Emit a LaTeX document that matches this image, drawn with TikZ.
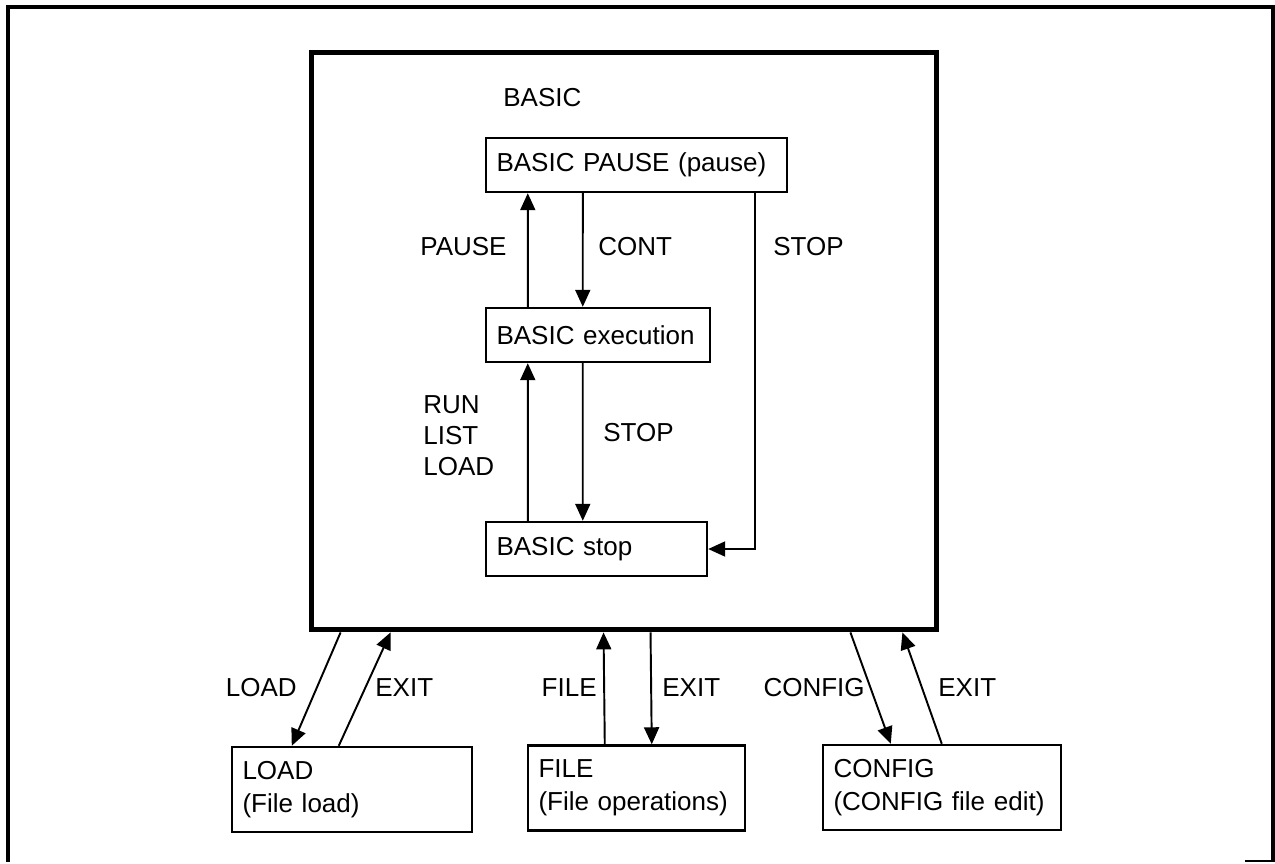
\documentclass[tikz,border=0pt]{standalone}
\usepackage{fontspec}
\setmainfont{Liberation Sans}
\usetikzlibrary{arrows.meta,positioning}

\begin{document}
\begin{tikzpicture}[x=0.02cm,y=-0.02cm,
  box/.style={draw, line width=1.4pt, align=left, inner xsep=0.21cm, minimum height=1.08cm, font=\fontsize{14.8}{19}\selectfont},
  arr/.style={line width=1.1pt, -{Triangle[length=0.34cm,width=0.3cm]}},
  lbl/.style={font=\fontsize{14.8}{17.6}\selectfont, inner sep=0pt, align=left}]
\useasboundingbox (0,0) rectangle (1275,863);
\draw[line width=1.8pt] (8,862) -- (8,7) -- (1273,7) -- (1273,862);
\draw[line width=1pt] (1273,861) -- (1245,861);
\node[draw, line width=2.8pt, minimum width=12.52cm, minimum height=11.56cm] (basic) at (624,341) {};
\node[lbl, anchor=west] (title) at (503,98) {BASIC};
\node[box, text width=5.6cm] (pause) at (636.5,165) {BASIC PAUSE (pause)};
\node[box, text width=4.06cm] (exec) at (598,335) {BASIC execution};
\node[box, text width=4.0cm] (stop) at (596.5,549) {BASIC stop};
\node[box, text width=4.38cm, minimum height=1.7cm] (load) at (352,789.5) {LOAD\\(File load)};
\node[box, text width=3.92cm, minimum height=1.7cm] (file) at (636.5,788) {FILE\\(File operations)};
\node[box, text width=4.34cm, minimum height=1.7cm] (config) at (942,787.5) {CONFIG\\(CONFIG file edit)};
% inside BASIC
\draw[arr] ([xshift=0.86cm]exec.north west) -- ([xshift=0.86cm]pause.south west);
\draw[arr] ([xshift=1.96cm]pause.south west) -- ([xshift=1.96cm]exec.north west);
\draw[arr] ([xshift=0.86cm]stop.north west) -- ([xshift=0.86cm]exec.south west);
\draw[arr] ([xshift=1.96cm]exec.south west) -- ([xshift=1.96cm]stop.north west);
\draw[arr] ([xshift=-0.66cm]pause.south east) |- (stop.east);
\node[lbl, anchor=west] (lpause) at (420,247) {PAUSE};
\node[lbl, anchor=west] (lcont) at (598,247) {CONT};
\node[lbl, anchor=west] (lstopa) at (773,247) {STOP};
\node[lbl, anchor=west] (lrun) at (423,436) {RUN\\LIST\\LOAD};
\node[lbl, anchor=west] (lstopb) at (603,433) {STOP};
% modes below
\draw[arr] ([xshift=0.64cm]basic.south west) -- ([xshift=1.22cm]load.north west);
\draw[arr] ([xshift=2.16cm]load.north west) -- ([xshift=1.64cm]basic.south west);
\draw[arr] ([xshift=1.56cm]file.north west) -- ([xshift=5.9cm]basic.south west);
\draw[arr] ([xshift=6.84cm]basic.south west) -- ([xshift=2.5cm]file.north west);
\draw[arr] ([xshift=-1.78cm]basic.south east) -- ([xshift=1.38cm]config.north west);
\draw[arr] ([xshift=2.4cm]config.north west) -- ([xshift=-0.74cm]basic.south east);
\node[lbl, anchor=east] (lload) at (297,688) {LOAD};
\node[lbl, anchor=west] (lexita) at (375,688) {EXIT};
\node[lbl, anchor=east] (lfile) at (597,688) {FILE};
\node[lbl, anchor=west] (lexitb) at (662,688) {EXIT};
\node[lbl, anchor=east] (lconfig) at (865,688) {CONFIG};
\node[lbl, anchor=west] (lexitc) at (938,688) {EXIT};
\end{tikzpicture}
\end{document}
